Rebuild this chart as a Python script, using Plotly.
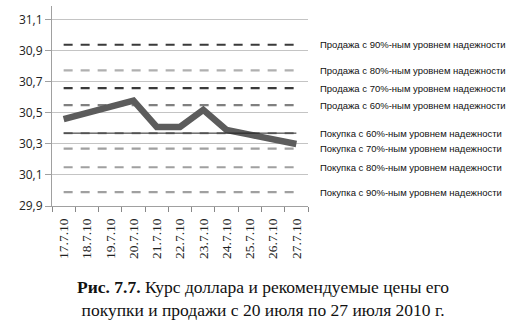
import plotly.graph_objects as go

dates = ["17.7.10", "18.7.10", "19.7.10", "20.7.10", "21.7.10", "22.7.10",
         "23.7.10", "24.7.10", "25.7.10", "26.7.10", "27.7.10"]
rate = [30.46, 30.50, 30.54, 30.58, 30.41, 30.41, 30.52, 30.39, 30.36, 30.33, 30.30]

level_labels = [
    "Продажа с 90%-ным уровнем надежности",
    "Продажа с 80%-ным уровнем надежности",
    "Продажа с 70%-ным уровнем надежности",
    "Продажа с 60%-ным уровнем надежности",
    "Покупка с 60%-ным уровнем надежности",
    "Покупка с 70%-ным уровнем надежности",
    "Покупка с 80%-ным уровнем надежности",
    "Покупка с 90%-ным уровнем надежности",
]
level_values = [30.94, 30.775, 30.66, 30.55, 30.37, 30.27, 30.15, 29.99]
level_colors = ["#3a3a3a", "#b0b0b0", "#3a3a3a", "#808080",
                "#a0a0a0", "#a0a0a0", "#a0a0a0", "#a0a0a0"]

y_ticks = [29.9, 30.1, 30.3, 30.5, 30.7, 30.9, 31.1]

fig = go.Figure()

for lab, val, col in zip(level_labels, level_values, level_colors):
    fig.add_trace(go.Scatter(
        x=dates, y=[val] * len(dates), mode="lines", name=lab,
        line=dict(color=col, width=2.2, dash="9px,8px"),
        showlegend=False, hoverinfo="skip"))

fig.add_trace(go.Scatter(
    x=dates, y=rate, mode="lines", name="Курс доллара",
    line=dict(color="#5c5c5c", width=6.5), showlegend=False))

# thin solid line at the 60% purchase level
fig.add_trace(go.Scatter(
    x=dates, y=[level_values[4]] * len(dates), mode="lines",
    line=dict(color="#222222", width=1), showlegend=False, hoverinfo="skip"))

for lab, val in zip(level_labels, level_values):
    fig.add_annotation(
        x=0, xref="paper", xshift=266, y=val, yref="y",
        text=lab, showarrow=False, xanchor="left", yanchor="middle",
        font=dict(family="Liberation Sans, Arial, sans-serif", size=9.5, color="#111111"))

fig.add_annotation(
    x=(263 - 52) / 256, xref="paper", y=0, yref="paper", yshift=-92,
    text="<b>Рис. 7.7.</b> Курс доллара и рекомендуемые цены его<br>покупки и продажи с 20 июля по 27 июля 2010 г.",
    showarrow=False, xanchor="center", yanchor="middle", align="center",
    font=dict(family="Liberation Serif, Times New Roman, serif", size=17.5, color="#111111"))

fig.update_layout(
    width=520, height=329,
    margin=dict(l=52, r=212, t=6, b=123),
    paper_bgcolor="white", plot_bgcolor="white",
    separators=", ",
    xaxis=dict(
        type="category", range=[-0.5, 10.5],
        tickangle=-90, ticks="outside", tickson="boundaries", ticklen=5,
        tickcolor="#888888", showgrid=False, ticklabelstandoff=6,
        showline=True, linecolor="#a0a0a0", linewidth=1,
        tickfont=dict(family="Liberation Serif, Times New Roman, serif", size=13.5, color="#222222"),
    ),
    yaxis=dict(
        range=[29.9, 31.19], tickvals=y_ticks,
        ticktext=[f"{v:.1f}".replace(".", ",") for v in y_ticks],
        ticks="outside", ticklen=6, tickcolor="#a0a0a0",
        showgrid=True, gridcolor="#c4c4c4", gridwidth=1,
        showline=True, linecolor="#a0a0a0", linewidth=1,
        zeroline=False,
        tickfont=dict(family="Open Sans, Liberation Sans, sans-serif", size=12, color="#222222"),
    ),
)

fig.write_html("out.html")
